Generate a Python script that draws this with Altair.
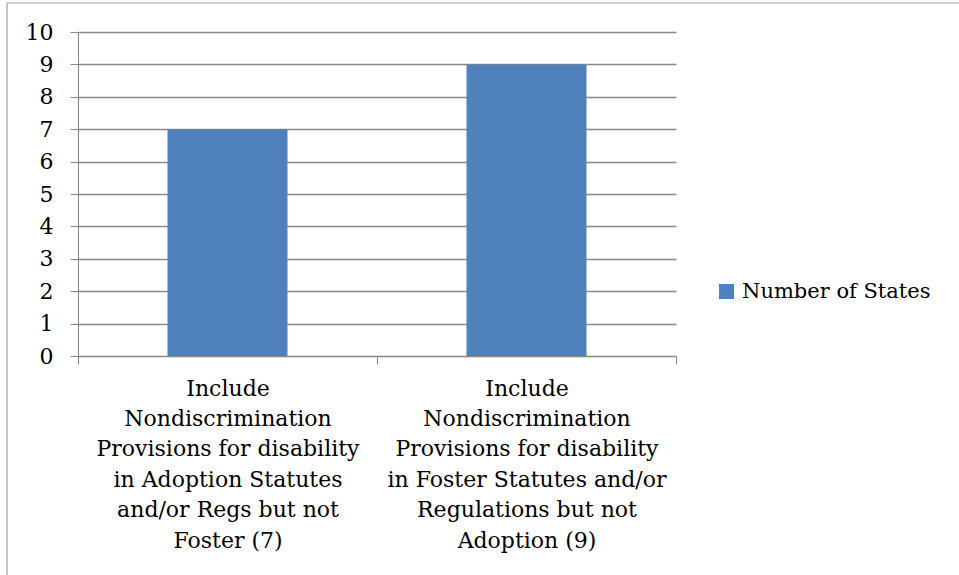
import altair as alt
import pandas as pd

# Category labels, one list of lines per bar
label_lines = [
    ["Include", "Nondiscrimination", "Provisions for disability",
     "in Adoption Statutes", "and/or Regs but not", "Foster (7)"],
    ["Include", "Nondiscrimination", "Provisions for disability",
     "in Foster Statutes and/or", "Regulations but not", "Adoption (9)"],
]
values = [7, 9]
series_name = "Number of States"

categories = ["|".join(lines) for lines in label_lines]
df = pd.DataFrame({"category": categories, "value": values, "series": series_name})

FONT = "DejaVu Serif"
GRAY = "#888888"

bars = alt.Chart(df).mark_bar(size=120, color="#4F81BD").encode(
    x=alt.X(
        "category:N",
        sort=categories,
        scale=alt.Scale(paddingInner=0, paddingOuter=0),
        axis=alt.Axis(
            title=None,
            labelAngle=0,
            labelExpr="split(datum.label, '|')",
            labelFont=FONT,
            labelFontSize=22,
            labelColor="#000000",
            labelLineHeight=30.4,
            labelBaseline="top",
            labelPadding=14,
            labelLimit=400,
            tickBand="extent",
            tickSize=8,
            tickColor=GRAY,
            domainColor=GRAY,
            grid=False,
        ),
    ),
    y=alt.Y(
        "value:Q",
        scale=alt.Scale(domain=[0, 10], nice=False),
        axis=alt.Axis(
            title=None,
            values=list(range(0, 11)),
            labelFont=FONT,
            labelFontSize=22,
            labelColor="#000000",
            labelPadding=17,
            tickSize=8,
            tickColor=GRAY,
            domainColor=GRAY,
            gridColor=GRAY,
            gridWidth=1.3,
        ),
    ),
    color=alt.Color(
        "series:N",
        scale=alt.Scale(range=["#4F81BD"]),
        legend=alt.Legend(
            title=None,
            orient="none",
            legendX=638,
            legendY=249,
            symbolType="square",
            symbolSize=225,
            symbolStrokeWidth=0,
            labelFont=FONT,
            labelFontSize=21,
            labelColor="#000000",
            labelOffset=5,
            labelLimit=300,
            padding=0,
        ),
    ),
)

# Outer chart frame
frame = alt.Chart(pd.DataFrame({"f": [0]})).mark_rect(
    fill=None, stroke="#a0a0a0", strokeWidth=1.2
).encode(
    x=alt.value(-71), y=alt.value(-29), x2=alt.value(900), y2=alt.value(600)
)

chart = alt.layer(frame, bars).properties(
    width=598,
    height=324,
    padding={"left": 78, "top": 32, "right": 283, "bottom": 219},
    autosize=alt.AutoSizeParams(type="none"),
    background="white",
).configure_view(stroke=None)

chart.save("out.html", embed_options={"renderer": "svg", "actions": False})
